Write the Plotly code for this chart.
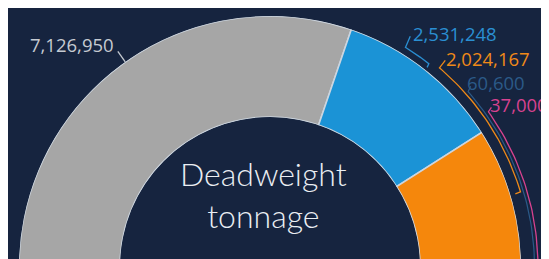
import plotly.graph_objects as go
import numpy as np

# ---- data ----
labels = ["7,126,950", "2,531,248", "2,024,167", "60,600", "37,000"]
values = [7126950, 2531248, 2024167, 60600, 37000]
colors = ["#a6a6a6", "#1b93d6", "#f5870c", "#2c5f8f", "#d6418c"]
label_colors = ["#c5cad1", "#2a8fd2", "#f08a18", "#2b5a88", "#d8428f"]
center_text = "Deadweight<br>tonnage"

BG = "#16243f"
W, H = 549, 259
R_PX, HOLE_PX = 251, 150
CX, CY = 262, 259

vals = np.array(values, dtype=float)
spans = vals / vals.sum() * 180.0
starts = np.concatenate([[0], np.cumsum(spans)[:-1]])
mids = starts + spans / 2

fig = go.Figure()
fig.add_trace(go.Barpolar(
    r=[1] * len(values), theta=mids, width=spans,
    marker=dict(color=colors, line=dict(color="#ccd5df", width=1.6)),
    hoverinfo="skip", showlegend=False,
))


def leader(points, color, width=1.3):
    # points: list of (radius px, screen angle deg) around the donut centre
    xs = [CX + p[0] * np.cos(np.radians(p[1])) for p in points]
    ys = [CY - p[0] * np.sin(np.radians(p[1])) for p in points]
    fig.add_trace(go.Scatter(
        x=xs, y=ys, mode="lines", xaxis="x", yaxis="y", cliponaxis=False,
        line=dict(color=color, width=width), hoverinfo="skip", showlegend=False,
    ))


def arc(r_px, a0, a1, n=40):
    return [(r_px, a) for a in np.linspace(a0, a1, n)]


# leader lines (decorative)
leader([(249, 125.2), (264, 125.2)], label_colors[0])
leader([(270, 58.7), (258, 58.5)] + arc(258, 58.5, 52.0) + [(254, 51.8)], label_colors[1])
leader([(271, 49.7), (261.5, 49.6)] + arc(261.5, 49.6, 16.7) + [(256, 16.6)], label_colors[2])
leader([(270, 42.0), (264.5, 41.5)] + arc(264.5, 41.5, 0.0), label_colors[3], 1.2)
leader([(273, 35.8), (268, 35.4)] + arc(268, 35.4, -1.0), label_colors[4], 1.3)

# labels
label_pos = [(64, 37), (447, 25.5), (480, 50), (488, 74), (511, 97)]
annotations = []
for (px, py), t, c in zip(label_pos, labels, label_colors):
    annotations.append(dict(
        x=px / W, y=1 - py / H, xref="paper", yref="paper", text=t,
        showarrow=False, xanchor="center", yanchor="middle",
        font=dict(family="Open Sans, sans-serif", size=18.5, color=c),
    ))
annotations.append(dict(
    x=255 / W, y=1 - 186 / H, xref="paper", yref="paper", text=center_text,
    showarrow=False, xanchor="center", yanchor="middle",
    font=dict(family="Lato, Open Sans, sans-serif", size=32, color="#eaeef3", weight=300),
))

fig.update_layout(
    width=W, height=H,
    margin=dict(l=0, r=0, t=0, b=0),
    paper_bgcolor=BG, plot_bgcolor="rgba(0,0,0,0)",
    xaxis=dict(range=[0, W], visible=False, domain=[0, 1], fixedrange=True),
    yaxis=dict(range=[H, 0], visible=False, domain=[0, 1], fixedrange=True),
    polar=dict(
        domain=dict(x=[(CX - R_PX) / W, (CX + R_PX) / W], y=[1 - CY / H, 1 - (CY - R_PX) / H]),
        sector=[0, 180], hole=HOLE_PX / R_PX, bgcolor=BG,
        radialaxis=dict(visible=False, range=[0, 1]),
        angularaxis=dict(visible=False, direction="clockwise", rotation=180,
                         showgrid=False, showticklabels=False, ticks=""),
    ),
    annotations=annotations,
)

fig.write_html("out.html")
